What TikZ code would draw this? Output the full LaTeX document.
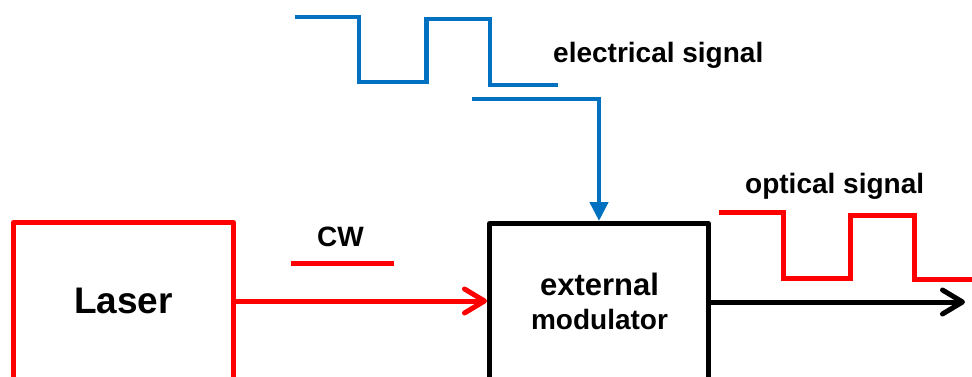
\documentclass[tikz,border=0pt]{standalone}
\usepackage{fontspec}
\setmainfont{Liberation Sans}
\usepackage{tikz}
\usetikzlibrary{arrows.meta,positioning,calc}
\definecolor{rojo}{HTML}{FF0000}
\definecolor{azul}{HTML}{0070C0}

\begin{document}
\begin{tikzpicture}[x=1pt,y=-1pt,
  every node/.style={font=\bfseries\fontsize{28}{34}\selectfont,inner sep=0pt},
  caja/.style={draw,line width=5pt,line join=round,anchor=north west,
               minimum height=170pt},
  haz/.style={line width=5pt,-{Straight Barb[length=20pt,width=24pt,line cap=round,line join=round]}},
  onda/.style={line width=4.5pt,line join=miter},
  control/.style={azul,line width=4.5pt,-{Triangle[length=19pt,width=18pt]}}
]
\useasboundingbox (0,0) rectangle (972,376);
\clip (0,0) rectangle (972,376);
% bloques
\node[caja,draw=rojo,minimum width=220pt] (laser) at (11,220) {};
\node[caja,draw=black,minimum width=219pt] (modulador) at (487,221) {};
\node (lasertxt) at (123.5,301) {\fontsize{37}{40}\selectfont Laser};
\node[align=center] (modtxt) at (599.5,301)
  {\fontsize{31}{34}\selectfont external\\modulator};
% textos
\node[anchor=base west] (cw) at (317,246) {CW};
\node[anchor=base west] (electrica) at (553,62) {electrical signal};
\node[anchor=base west] (optica) at (745,193) {optical signal};
% ondas
\draw[onda,azul] (295,17) -- (359,17) -- (359,82) -- (426.5,82) -- (426.5,19)
  -- (490,19) -- (490,85) -- (558,85);
\draw[onda,rojo,line width=5pt] (291,263) -- (394,263);
\draw[onda,rojo,line width=5pt] (719,212.5) -- (783.5,212.5) -- (783.5,278)
  -- (850.5,278) -- (850.5,215) -- (914.5,215) -- (914.5,279.5) -- (975,279.5);
% conexiones
\coordinate (cola) at (472,99);
\coordinate (salida) at (965,302);
\draw[haz,rojo] (laser.east |- lasertxt) -- (modulador.west |- lasertxt);
\draw[haz,black] (modulador.east |- salida) -- (salida);
\draw[control] (cola) -| (modulador.north);
\end{tikzpicture}
\end{document}
